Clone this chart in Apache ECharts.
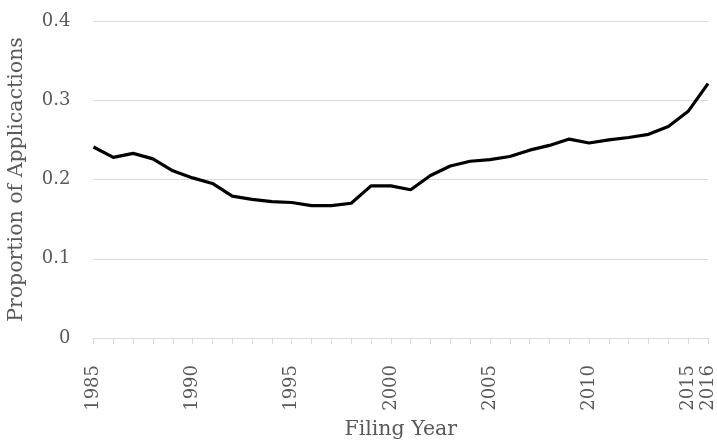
<!DOCTYPE html>
<html>
<head>
<meta charset="utf-8">
<script src="https://cdn.jsdelivr.net/npm/echarts@6/dist/echarts.min.js"></script>
<style>html,body{margin:0;padding:0;background:#fff}#c{width:717px;height:441px}</style>
</head>
<body>
<div id="c"></div>
<script>
var years = [];
for (var y = 1985; y <= 2016; y++) years.push(String(y));
var proportions = [0.241, 0.228, 0.233, 0.226, 0.211, 0.202, 0.195, 0.179, 0.175, 0.172, 0.171, 0.167, 0.167, 0.170, 0.192, 0.192,
                   0.187, 0.205, 0.217, 0.223, 0.225, 0.229, 0.237, 0.243, 0.251, 0.246, 0.250, 0.253, 0.257, 0.267, 0.286, 0.321];
var yTicks = [0, 0.1, 0.2, 0.3, 0.4];
var xLabelYears = ['1985','1990','1995','2000','2005','2010','2015','2016'];

var font = 'DejaVu Serif';
var chart = echarts.init(document.getElementById('c'));
chart.setOption({
  animation: false,
  grid: {left: 93.5, right: 9, top: 21, bottom: 103, containLabel: false, outerBoundsMode: 'none'},
  xAxis: {
    type: 'category',
    data: years,
    boundaryGap: false,
    name: 'Filing Year',
    nameLocation: 'middle',
    nameGap: 80,
    nameTextStyle: {fontFamily: font, fontSize: 20.5, color: '#595959'},
    axisLine: {lineStyle: {color: '#d9d9d9', width: 1}},
    axisTick: {show: true, interval: 0, length: 6, lineStyle: {color: '#d9d9d9'}},
    axisLabel: {
      rotate: 90,
      margin: 27,
      fontFamily: font, fontSize: 18, color: '#595959',
      interval: function (i, v) { return xLabelYears.indexOf(v) >= 0; }
    },
    splitLine: {show: false}
  },
  yAxis: {
    type: 'value',
    min: 0, max: 0.4, interval: 0.1,
    name: 'Proportion of Applicactions',
    nameLocation: 'middle',
    nameGap: 66,
    nameTextStyle: {fontFamily: font, fontSize: 20.5, color: '#595959'},
    axisLine: {show: false},
    axisTick: {show: false},
    axisLabel: {
      margin: 23, fontFamily: font, fontSize: 18, color: '#595959',
      formatter: function (v) { var t = yTicks.filter(function(k){return Math.abs(k-v)<1e-9;})[0]; return t === 0 ? '0' : String(Math.round(v*10)/10); }
    },
    splitLine: {lineStyle: {color: '#d9d9d9', width: 1}}
  },
  series: [{
    type: 'line',
    data: proportions,
    showSymbol: false,
    lineStyle: {color: '#000', width: 3.2},
    itemStyle: {color: '#000'}
  }]
});
</script>
</body>
</html>
